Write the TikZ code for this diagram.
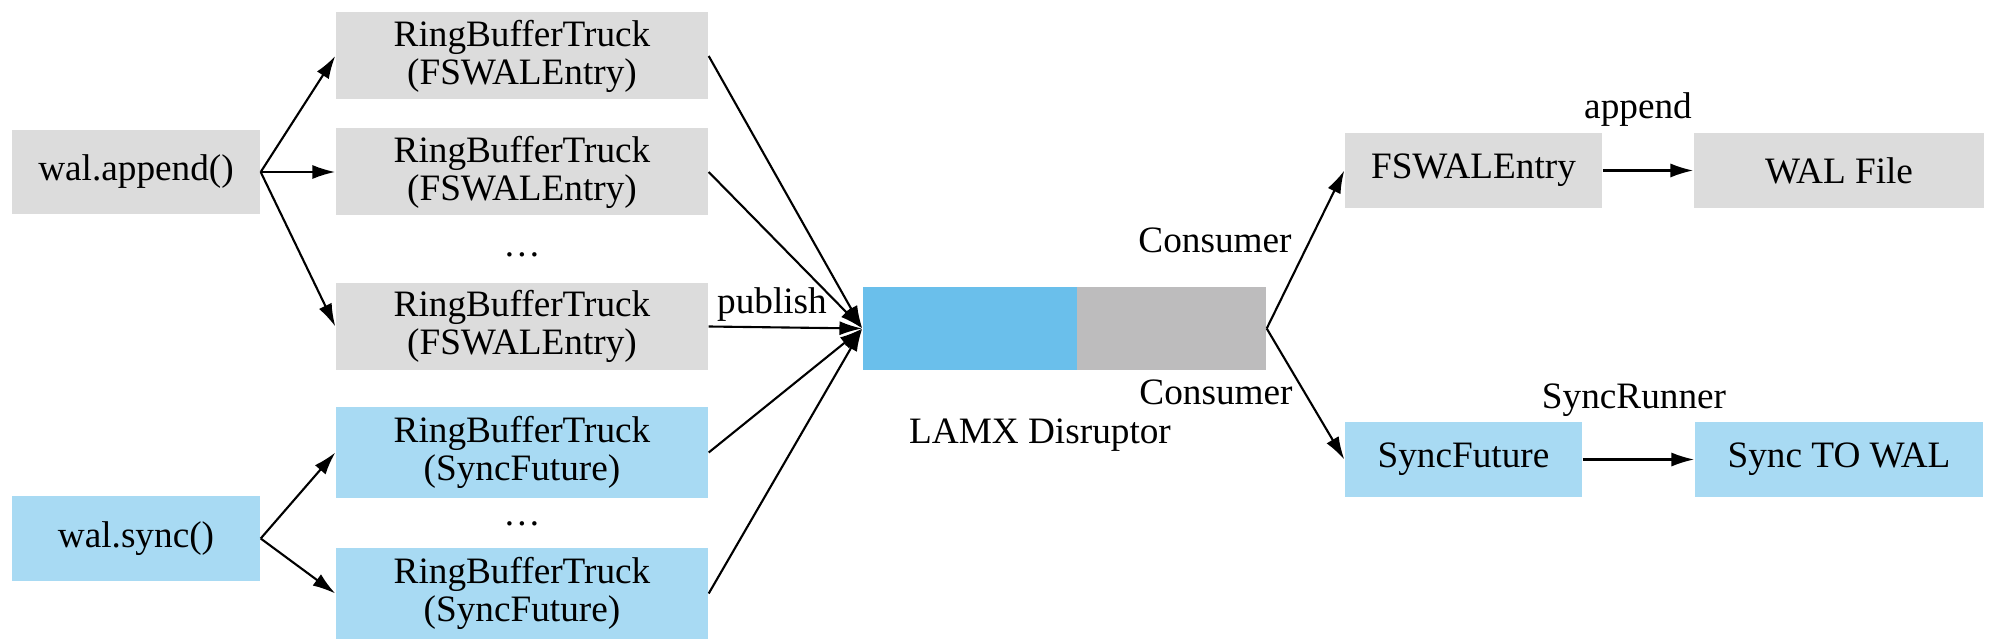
\documentclass[tikz,border=0pt]{standalone}
\usepackage{fontspec}
\setmainfont{Liberation Serif}
\usetikzlibrary{arrows.meta}
\definecolor{boxgray}{HTML}{DCDCDC}
\definecolor{boxblue}{HTML}{A8DAF3}
\definecolor{rbblue}{HTML}{6ABFEB}
\definecolor{rbgray}{HTML}{BDBCBD}
\begin{document}
\begin{tikzpicture}[font=\fontsize{10.6}{10.8}\selectfont]
        \tikzset{>={Latex[length=6.5pt,width=4pt]}}
        \tikzset{grybox/.style={fill=boxgray, inner sep=0pt, align=center, minimum height=0.87cm},
                 blubox/.style={fill=boxblue, inner sep=0pt, align=center, minimum height=0.87cm},
                 conn/.style={->, line width=0.6pt}}
        \useasboundingbox (0,0) rectangle (20,-6.44);
        % callers
        \node[grybox, minimum width=2.48cm, minimum height=0.84cm] (append) at (1.36,-1.72) {wal.append()};
        \node[blubox, minimum width=2.48cm, minimum height=0.85cm] (sync) at (1.36,-5.385) {wal.sync()};
        % trucks
        \node[grybox, minimum width=3.72cm] (rbt1) at (5.22,-0.56) {RingBufferTruck\\(FSWALEntry)};
        \node[grybox, minimum width=3.72cm] (rbt2) at (5.22,-1.72) {RingBufferTruck\\(FSWALEntry)};
        \node (dots1) at (5.22,-2.55) {\dots};
        \node[grybox, minimum width=3.72cm] (rbt3) at (5.22,-3.265) {RingBufferTruck\\(FSWALEntry)};
        \node[blubox, minimum width=3.72cm, minimum height=0.91cm] (rbt4) at (5.22,-4.525) {RingBufferTruck\\(SyncFuture)};
        \node (dots2) at (5.22,-5.24) {\dots};
        \node[blubox, minimum width=3.72cm, minimum height=0.91cm] (rbt5) at (5.22,-5.935) {RingBufferTruck\\(SyncFuture)};
        % disruptor
        \node[fill=rbblue, minimum width=2.14cm, minimum height=0.83cm, inner sep=0pt] (ringA) at (9.70,-3.285) {};
        \node[fill=rbgray, minimum width=1.89cm, minimum height=0.83cm, inner sep=0pt] (ringB) at (11.715,-3.285) {};
        \node (lamx) at (10.40,-4.35) {LAMX Disruptor};
        % consumers
        \node[grybox, minimum width=2.57cm, minimum height=0.75cm] (fswal) at (14.735,-1.705) {FSWALEntry};
        \node[grybox, minimum width=2.90cm, minimum height=0.75cm] (walfile) at (18.39,-1.705) {WAL File};
        \node[blubox, minimum width=2.37cm, minimum height=0.75cm] (syncf) at (14.635,-4.595) {SyncFuture};
        \node[blubox, minimum width=2.88cm, minimum height=0.75cm] (syncwal) at (18.39,-4.595) {Sync TO WAL};
        % labels
        \node (publish) at (7.72,-3.05) {publish};
        \node (cons1) at (12.15,-2.40) {Consumer};
        \node (cons2) at (12.16,-3.92) {Consumer};
        \node (appendlbl) at (16.38,-1.10) {append};
        \node (runner) at (16.34,-4.00) {SyncRunner};
        % arrows
        \draw[conn] (append.east) -- (rbt1.west);
        \draw[conn] (append.east) -- (rbt2.west);
        \draw[conn] (append.east) -- (rbt3.west);
        \draw[conn] (sync.east) -- (rbt4.west);
        \draw[conn] (sync.east) -- (rbt5.west);
        \draw[conn] (rbt1.east) -- (ringA.west);
        \draw[conn] (rbt2.east) -- (ringA.west);
        \draw[conn] (rbt3.east) -- (ringA.west);
        \draw[conn] (rbt4.east) -- (ringA.west);
        \draw[conn] (rbt5.east) -- (ringA.west);
        \draw[conn] (ringB.east) -- (fswal.west);
        \draw[conn] (ringB.east) -- (syncf.west);
        \draw[conn] (fswal.east) -- (walfile.west);
        \draw[conn] (syncf.east) -- (syncwal.west);
    \end{tikzpicture}
\end{document}
